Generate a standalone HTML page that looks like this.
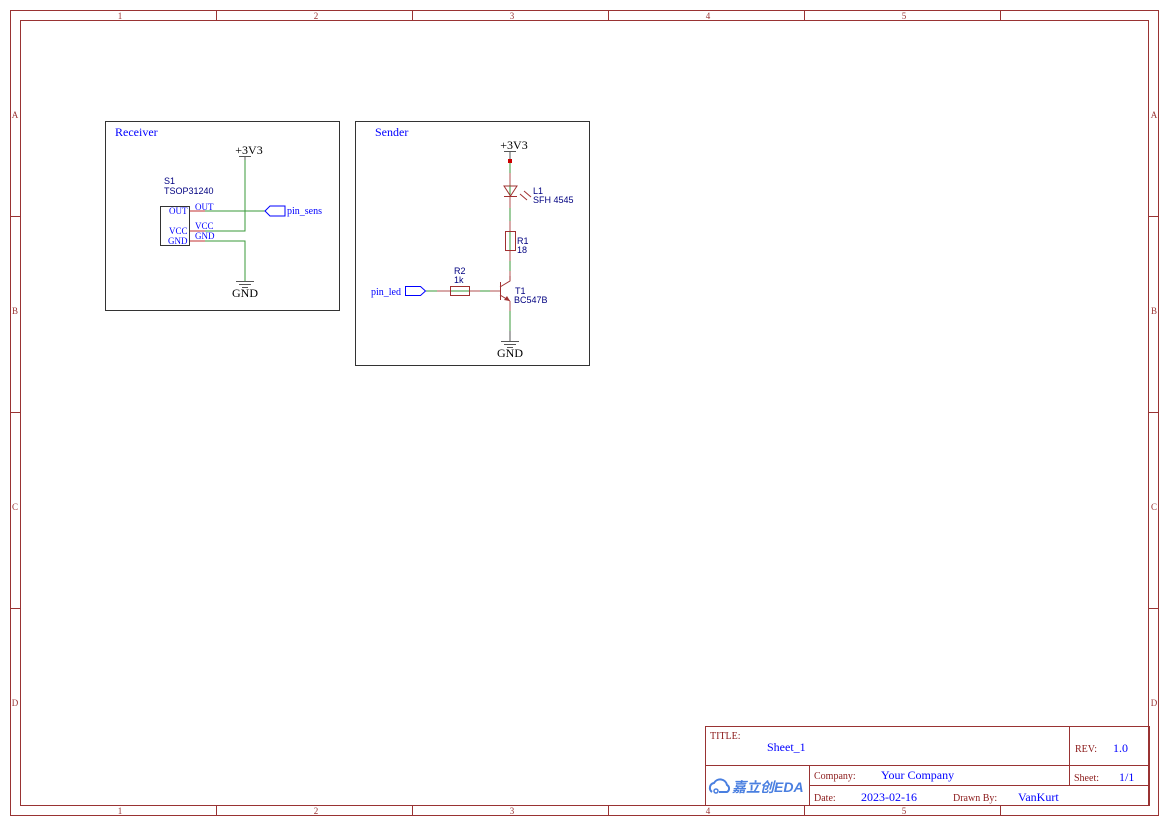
<!DOCTYPE html>
<html><head><style>body{margin:0;background:#fff}svg{display:block}</style></head><body>
<svg width="1169" height="827" viewBox="0 0 1169 827" xmlns="http://www.w3.org/2000/svg" font-family="Liberation Serif, serif">
<g stroke="#993333" fill="none" stroke-width="1">
<rect x="10.5" y="10.5" width="1148" height="805"/>
<rect x="20.5" y="20.5" width="1128" height="785"/>
<path d="M216.5 10v10M412.5 10v10M608.5 10v10M804.5 10v10M1000.5 10v10M216.5 806v10M412.5 806v10M608.5 806v10M804.5 806v10M1000.5 806v10M10 216.5h10M10 412.5h10M10 608.5h10M1149 216.5h10M1149 412.5h10M1149 608.5h10"/>
</g>
<g fill="#993333" font-size="9" text-anchor="middle">
<text x="120" y="19">1</text><text x="316" y="19">2</text><text x="512" y="19">3</text><text x="708" y="19">4</text><text x="904" y="19">5</text>
<text x="120" y="814">1</text><text x="316" y="814">2</text><text x="512" y="814">3</text><text x="708" y="814">4</text><text x="904" y="814">5</text>
<text x="15" y="118">A</text><text x="15" y="314">B</text><text x="15" y="510">C</text><text x="15" y="706">D</text>
<text x="1154" y="118">A</text><text x="1154" y="314">B</text><text x="1154" y="510">C</text><text x="1154" y="706">D</text>
</g>
<!-- Receiver -->
<rect x="105.5" y="121.5" width="234" height="189" fill="none" stroke="#333"/>
<text x="115" y="136" fill="#0000ff" font-size="12">Receiver</text>
<text x="249" y="154" font-size="12" text-anchor="middle">+3V3</text>
<path d="M239 156.5h12M245 156v4" stroke="#555"/>
<path d="M245 160v71H205M190 211h75M205 241h40v40" stroke="#3a9a3a" fill="none"/>
<path d="M190 211h15M190 231h15M190 241h15" stroke="#c03030"/>
<rect x="160.5" y="206.5" width="29" height="39" fill="none" stroke="#333"/>
<text x="164" y="184" font-family="Liberation Sans,sans-serif" font-size="9" fill="#000080">S1</text>
<text x="164" y="194" font-family="Liberation Sans,sans-serif" font-size="9" fill="#000080">TSOP31240</text>
<g fill="#0000ff" font-size="9"><text x="169" y="214">OUT</text><text x="169" y="234">VCC</text><text x="168" y="244">GND</text><text x="195" y="210">OUT</text><text x="195" y="229">VCC</text><text x="195" y="239">GND</text></g>
<path d="M265 211l5-5h15v10h-15z" fill="none" stroke="#0000ff"/>
<text x="287" y="214" fill="#0000ff" font-size="10">pin_sens</text>
<path d="M236 281.5h18M239 284.5h12M242 287.5h6" stroke="#555"/>
<text x="245" y="297" font-size="12" text-anchor="middle">GND</text>
<!-- Sender -->
<rect x="355.5" y="121.5" width="234" height="244" fill="none" stroke="#333"/>
<text x="375" y="136" fill="#0000ff" font-size="12">Sender</text>
<text x="514" y="149" font-size="12" text-anchor="middle">+3V3</text>
<path d="M504 151.5h12M510 151v9" stroke="#555"/>
<rect x="508" y="159" width="4" height="4" fill="#c00"/>
<path d="M510 163v118M426 291h74M510 301v30" stroke="#3a9a3a" fill="none"/>
<path d="M510 173v12M510 196v12M510 221v10M510 251v10M510 271v10M437 291h13M470 291h10M490 291h10M510 301v10" stroke="#b05050" fill="none"/>
<path d="M504 186h13l-6.5 10zM504 196.5h13" fill="none" stroke="#a03030"/>
<path d="M520 194l7 6M524 191l7 6" stroke="#a03030"/>
<rect x="505.5" y="231.5" width="10" height="19" fill="none" stroke="#a03030"/>
<rect x="450.5" y="286.5" width="19" height="9" fill="none" stroke="#a03030"/>
<path d="M500.5 282v18M500 287l10-6v-5M500 295l10 6" stroke="#a03030" fill="none"/>
<path d="M510 301l-6-1 3-4z" fill="#a03030"/>
<path d="M510 331v10M501 341.5h18M504 344.5h12M507 347.5h6" stroke="#555"/>
<g font-family="Liberation Sans,sans-serif" font-size="9" fill="#000080">
<text x="533" y="194">L1</text><text x="533" y="203">SFH 4545</text>
<text x="517" y="244">R1</text><text x="517" y="253">18</text>
<text x="454" y="274">R2</text><text x="454" y="283">1k</text>
<text x="515" y="294">T1</text><text x="514" y="303">BC547B</text></g>
<path d="M405.5 286.5h15l5 4.5-5 4.5h-15z" fill="none" stroke="#0000ff"/>
<text x="371" y="295" fill="#0000ff" font-size="10">pin_led</text>
<text x="510" y="357" font-size="12" text-anchor="middle">GND</text>
<!-- title block -->
<g stroke="#993333" fill="none">
<rect x="705.5" y="726.5" width="444" height="79"/>
<path d="M705 765.5h444M1069.5 726v59M809.5 765v41M809 785.5h340"/>
</g>
<g fill="#8b1a1a" font-size="10"><text x="710" y="739">TITLE:</text><text x="1075" y="752">REV:</text><text x="814" y="779">Company:</text><text x="1074" y="781">Sheet:</text><text x="814" y="801">Date:</text><text x="953" y="801">Drawn By:</text></g>
<g fill="#0000ff" font-size="12"><text x="767" y="751">Sheet_1</text><text x="1113" y="752">1.0</text><text x="881" y="779">Your Company</text><text x="1119" y="781">1/1</text><text x="861" y="801">2023-02-16</text><text x="1018" y="801">VanKurt</text></g>
<path d="M712 792a5 5 0 0 1 2-9a7 7 0 0 1 13 2a4 4 0 0 1 0 7h-8" fill="none" stroke="#4a7fe0" stroke-width="2"/>
<circle cx="716" cy="791" r="2" fill="none" stroke="#4a7fe0" stroke-width="1.5"/>
<text x="732" y="792" fill="#4a7fe0" font-family="Liberation Sans,'Noto Sans CJK SC',sans-serif" font-size="14" font-weight="bold" font-style="italic">嘉立创EDA</text>
</svg>
</body></html>
